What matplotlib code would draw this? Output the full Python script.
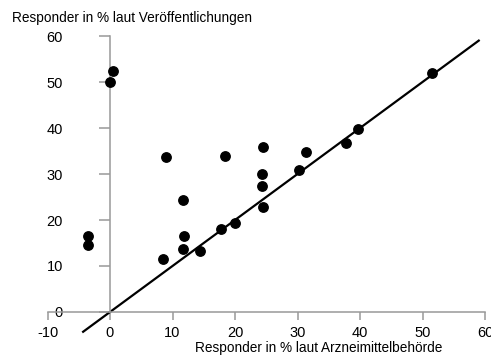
import matplotlib
matplotlib.use("Agg")
import matplotlib.pyplot as plt

plt.rcParams['font.family'] = ['Liberation Sans', 'DejaVu Sans']
plt.rcParams['axes.unicode_minus'] = False

# Responder in % (Arzneimittelbehörde vs. Veröffentlichungen)
behoerde = [0.5, 0.0, 9.0, 11.7, -3.5, -3.5, 11.9, 17.7, 11.7, 14.4, 8.5,
            18.4, 24.5, 31.4, 37.8, 24.3, 24.3, 30.3, 24.4, 20.0, 39.7, 51.5]
veroeff = [52.3, 50.0, 33.8, 24.3, 16.6, 14.5, 16.5, 18.0, 13.6, 13.3, 11.6,
           34.0, 35.9, 34.8, 36.7, 29.9, 27.4, 30.9, 22.9, 19.3, 39.8, 52.0]

# identity line
line_x = [-4.3, 59]
line_y = [-4.3, 59]

xticks = [-10, 0, 10, 20, 30, 40, 50, 60]
yticks = [0, 10, 20, 30, 40, 50, 60]

fig = plt.figure(figsize=(4.91, 3.55), dpi=100)
ax = fig.add_axes([0, 0, 1, 1])
ax.set_xlim(-17.6, 60.96)
ax.set_ylim(-9.35, 67.83)

ax.plot(line_x, line_y, color='black', lw=1.6, zorder=2)
ax.scatter(behoerde, veroeff, s=46, color='black', zorder=3)

for s in ['top', 'right']:
    ax.spines[s].set_visible(False)
ax.spines['left'].set_position(('data', 0))
ax.spines['bottom'].set_position(('data', 0))
ax.spines['left'].set_bounds(0, 60)
ax.spines['bottom'].set_bounds(-10, 60)
for s in ['left', 'bottom']:
    ax.spines[s].set_color('#999999')
    ax.spines[s].set_linewidth(1.1)

ax.set_xticks(xticks)
ax.set_yticks(yticks)
ax.tick_params(axis='x', direction='out', length=6, width=1.1, color='#999999',
               pad=4, labelsize=10.5)
ax.tick_params(axis='y', direction='out', length=8, width=1.1, color='#999999',
               pad=26, labelsize=10.5)

fig.text(12 / 491, 1 - 18 / 355, "Responder in % laut Veröffentlichungen",
         fontsize=9.8, ha='left', va='center')
fig.text(319 / 491, 3 / 355, "Responder in % laut Arzneimittelbehörde",
         fontsize=9.8, ha='center', va='baseline')

fig.savefig("out.png", dpi=100)
